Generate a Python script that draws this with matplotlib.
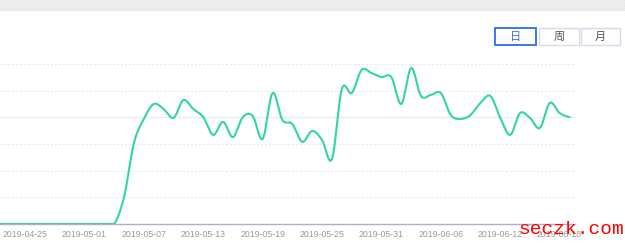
import numpy as np
import pandas as pd
import matplotlib.pyplot as plt
from matplotlib.patches import Rectangle

dates = pd.date_range('2019-04-22', '2019-06-19', freq='D')
values = [0] * 13 + [
    101, 304, 394, 450, 431, 398, 465, 431, 401, 334,
    383, 326, 401, 405, 319, 491, 390, 375, 308, 349,
    315, 244, 506, 491, 578, 566, 551, 551, 450, 585,
    480, 484, 491, 409, 394, 409, 454, 480, 398, 334,
    416, 398, 360, 454, 416, 401,
]
tick_idx = list(range(3, 59, 6))
tick_labels = [dates[i].strftime('%Y-%m-%d') for i in tick_idx]
grid_vals = [100, 200, 300, 400, 500, 600]
buttons = ['日', '周', '月']


def catmull_rom(x, y, n=20):
    x = np.asarray(x, float)
    y = np.asarray(y, float)
    px = np.concatenate([[2 * x[0] - x[1]], x, [2 * x[-1] - x[-2]]])
    py = np.concatenate([[y[0]], y, [y[-1]]])
    xs, ys = [], []
    t = np.linspace(0, 1, n, endpoint=False)
    for i in range(1, len(px) - 2):
        p0, p1, p2, p3 = py[i - 1], py[i], py[i + 1], py[i + 2]
        yy = 0.5 * ((2 * p1) + (-p0 + p2) * t + (2 * p0 - 5 * p1 + 4 * p2 - p3) * t ** 2
                    + (-p0 + 3 * p1 - 3 * p2 + p3) * t ** 3)
        xs.append(px[i] + (px[i + 1] - px[i]) * t)
        ys.append(yy)
    xs.append([x[-1]])
    ys.append([y[-1]])
    return np.concatenate(xs), np.concatenate(ys)


fig = plt.figure(figsize=(6.25, 2.49), dpi=100)
W, H = 625, 249

# top hatched band
fig.patches.append(Rectangle((0, 1 - 10 / H), 1, 10 / H, transform=fig.transFigure,
                             facecolor='#f2f2f2', edgecolor='#e2e2e2', hatch='......', lw=0))
fig.lines.append(plt.Line2D([0, 1], [1 - 10.5 / H, 1 - 10.5 / H], transform=fig.transFigure,
                            color='#e6e6e6', lw=0.8))

ax = fig.add_axes([0, (H - 224) / H, 574.5 / W, 160 / H])
x = np.arange(len(values))
sx, sy = catmull_rom(x, values)
sy = np.clip(sy, 0, None)
ax.plot(sx, sy, color='#33d69f', lw=1.5, zorder=3, solid_capstyle='round')

for g in grid_vals:
    if g == 400:
        ax.axhline(g, color='#ebebf3', lw=0.8, zorder=1)
    else:
        ax.axhline(g, color='#e4e4e4', lw=0.7, ls=(0, (2, 2)), zorder=1)

ax.set_xlim(0.47, 58.5)
ax.set_ylim(0, 600)
ax.set_yticks([])
ax.set_xticks(tick_idx)
ax.set_xticklabels(tick_labels, fontsize=6.3, color='#999999', family='Liberation Sans')
ax.tick_params(axis='x', length=0, pad=4)
for s in ['top', 'right', 'left']:
    ax.spines[s].set_visible(False)
ax.spines['bottom'].set_color('#aeb1c6')
ax.spines['bottom'].set_linewidth(1)
ax.patch.set_alpha(0)

# period buttons
boxes = [(495.5, 536), (539, 579), (581, 620)]
for i, (lab, (x0, x1)) in enumerate(zip(buttons, boxes)):
    active = i == 0
    fig.patches.append(Rectangle((x0 / W, 1 - 45 / H), (x1 - x0) / W, 17 / H,
                                 transform=fig.transFigure, facecolor='white',
                                 edgecolor='#2f6bef' if active else '#d5dbe8',
                                 lw=1.3 if active else 1.0))
    fig.text((x0 + x1) / 2 / W, 1 - 36.5 / H, lab, ha='center', va='center', fontsize=8,
             color='#3a6fd8' if active else '#555555',
             family=['Noto Sans CJK SC', 'DejaVu Sans'])

fig.text(518 / W, 1 - 229 / H, 'seczk.com', ha='left', va='center', fontsize=14,
         color='#ff0000', family='Liberation Mono')

fig.savefig('out.png', dpi=100)
